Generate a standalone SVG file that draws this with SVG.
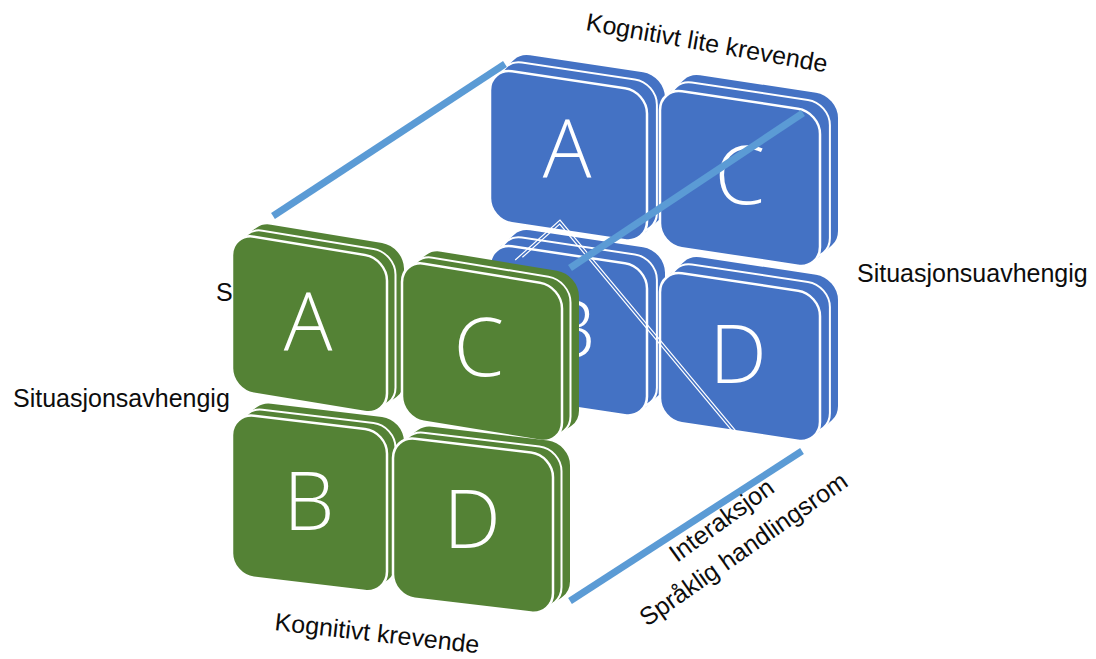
<svg xmlns="http://www.w3.org/2000/svg" width="1096" height="659" viewBox="0 0 1096 659">
  <style>
    .hull { stroke-width: 44; stroke-linejoin: round; }
    .blue .hull { fill: #4472C4; stroke: #4472C4; }
    .green .hull { fill: #548235; stroke: #548235; }
    .blue .face { fill: #4472C4; }
    .green .face { fill: #548235; }
    .mid { fill: none; stroke: #FFFFFF; stroke-width: 2; }
    .face { stroke: #FFFFFF; stroke-width: 2.5; }
    .letter { font-family: "Open Sans", "Liberation Sans", sans-serif; font-weight: 300; font-size: 81px; fill: #FFFFFF; text-anchor: middle; }
    .label { font-family: "Liberation Sans", Arial, sans-serif; font-size: 25px; fill: #0D0D0D; }
    .edge { stroke: #5B9BD5; stroke-width: 7; fill: none; }
    .hair { stroke: #FFFFFF; stroke-width: 1.2; fill: none; }
  </style>

  <rect width="1096" height="659" fill="#FFFFFF"/>

  <!-- rear block (blue): each tile = extruded body, inner ridge line, front face -->
  <g id="blue-a" class="tile blue">
    <g transform="matrix(1 0.15 0 1 490 68)">
      <path class="hull" d="M22,22 L40,3.3 L153,3.3 L153,111.3 L135,130 L22,130 Z"/>
      <rect class="mid" x="9.9" y="-10.3" width="157" height="152" rx="22"/>
      <rect class="face" x="0" y="0" width="157" height="152" rx="22"/>
    </g>
    <text class="letter" x="567" y="178">A</text>
  </g>

  <g id="blue-c" class="tile blue">
    <g transform="matrix(1 0.15 0 1 660 88)">
      <path class="hull" d="M22,22 L40,3.3 L156,3.3 L156,116.3 L138,135 L22,135 Z"/>
      <rect class="mid" x="9.9" y="-10.3" width="160" height="157" rx="22"/>
      <rect class="face" x="0" y="0" width="160" height="157" rx="22"/>
    </g>
    <text class="letter" x="740" y="204">C</text>
  </g>

  <g id="blue-b" class="tile blue">
    <g transform="matrix(1 0.15 0 1 490 243)">
      <path class="hull" d="M22,22 L40,3.3 L153,3.3 L153,111.3 L135,130 L22,130 Z"/>
      <rect class="mid" x="9.9" y="-10.3" width="157" height="152" rx="22"/>
      <rect class="face" x="0" y="0" width="157" height="152" rx="22"/>
    </g>
    <text class="letter" x="570" y="358">B</text>
  </g>

  <g id="blue-d" class="tile blue">
    <g transform="matrix(1 0.15 0 1 660 270)">
      <path class="hull" d="M22,22 L40,3.3 L156,3.3 L156,109.3 L138,128 L22,128 Z"/>
      <rect class="mid" x="9.9" y="-10.3" width="160" height="150" rx="22"/>
      <rect class="face" x="0" y="0" width="160" height="150" rx="22"/>
    </g>
    <text class="letter" x="738" y="383">D</text>
  </g>

  <!-- connectors: double hairline and the cube edges -->
  <g id="connectors">
    <path class="hair" d="M515.2,260 L560,220 L752,450.4"/>
    <path class="hair" d="M522.4,257.3 L559.7,224 L745.3,446.7"/>
    <line class="edge" x1="273" y1="216" x2="505" y2="64"/>
    <line class="edge" x1="570" y1="268" x2="803" y2="113"/>
    <line class="edge" x1="570" y1="601" x2="802" y2="451"/>
  </g>

  <!-- front block (green) -->
  <g id="green-a" class="tile green">
    <g transform="matrix(1 0.165 0 1 232 233)">
      <path class="hull" d="M22,22 L39,7.2 L150,7.2 L150,120.2 L133,135 L22,135 Z"/>
      <rect class="mid" x="8.5" y="-7.4" width="155" height="157" rx="22"/>
      <rect class="face" x="0" y="0" width="155" height="157" rx="22"/>
    </g>
    <text class="letter" x="308" y="351">A</text>
  </g>

  <g id="green-c" class="tile green">
    <g transform="matrix(1 0.165 0 1 402 260)">
      <path class="hull" d="M22,22 L39,7.2 L155,7.2 L155,121.2 L138,136 L22,136 Z"/>
      <rect class="mid" x="8.5" y="-7.4" width="160" height="158" rx="22"/>
      <rect class="face" x="0" y="0" width="160" height="158" rx="22"/>
    </g>
    <text class="letter" x="479" y="376">C</text>
  </g>

  <g id="green-b" class="tile green">
    <g transform="matrix(1 0.12 0 1 232 413)">
      <path class="hull" d="M22,22 L39,8 L150,8 L150,126 L133,140 L22,140 Z"/>
      <rect class="mid" x="8.5" y="-7" width="155" height="162" rx="22"/>
      <rect class="face" x="0" y="0" width="155" height="162" rx="22"/>
    </g>
    <text class="letter" x="309" y="530">B</text>
  </g>

  <g id="green-d" class="tile green">
    <g transform="matrix(1 0.12 0 1 393 436)">
      <path class="hull" d="M22,22 L39,8 L155,8 L155,124 L138,138 L22,138 Z"/>
      <rect class="mid" x="8.5" y="-7" width="160" height="160" rx="22"/>
      <rect class="face" x="0" y="0" width="160" height="160" rx="22"/>
    </g>
    <text class="letter" x="472" y="548">D</text>
  </g>

  <!-- axis labels -->
  <g id="labels">
    <text class="label" x="585" y="30" transform="rotate(10 585 30)">Kognitivt lite krevende</text>
    <text class="label" x="857" y="282">Situasjonsuavhengig</text>
    <text class="label" x="216" y="301">S</text>
    <text class="label" x="13" y="407">Situasjonsavhengig</text>
    <text class="label" x="274" y="630" transform="rotate(6.5 274 630)">Kognitivt krevende</text>
    <text class="label" x="677" y="563" transform="rotate(-36 677 563)">Interaksjon</text>
    <text class="label" x="647" y="627" transform="rotate(-35 647 627)">Språklig handlingsrom</text>
  </g>
</svg>
